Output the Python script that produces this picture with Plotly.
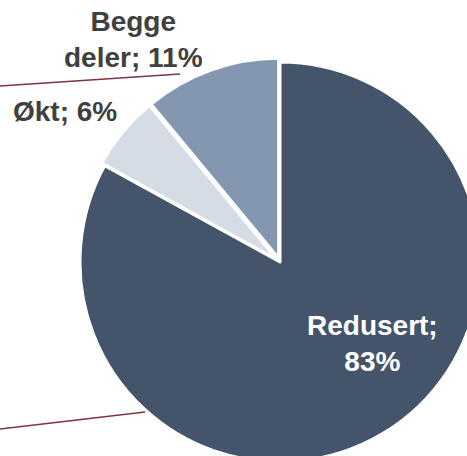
import plotly.graph_objects as go

# ---- data ----
labels = ["Redusert", "Økt", "Begge deler"]
values = [83, 6, 11]
colors = ["#44546A", "#D6DCE5", "#8497B0"]
pulls = [0, 0.02, 0.02]
# how each data label is broken into lines
label_text = [
    "Redusert;<br>{v}%",
    "Økt; {v}%",
    "Begge<br>deler; {v}%",
]
# label centres in pixels (x, y from top)
label_pos = [(372, 343), (65, 111), (133, 39)]
label_color = ["#FFFFFF", "#404040", "#404040"]

W, H = 484, 466
cx, cy, side = 280, 262, 408  # pie centre and domain side in px

fig = go.Figure()
fig.add_trace(go.Pie(
    labels=labels,
    values=values,
    sort=False,
    direction="clockwise",
    rotation=0,
    pull=pulls,
    marker=dict(colors=colors, line=dict(color="#FFFFFF", width=3)),
    textinfo="none",
    hoverinfo="label+percent",
    showlegend=False,
    domain=dict(
        x=[(cx - side / 2) / W, (cx + side / 2) / W],
        y=[1 - (cy + side / 2) / H, 1 - (cy - side / 2) / H],
    ),
))

for lab, val, fmt, (px, py), col in zip(labels, values, label_text, label_pos, label_color):
    fig.add_annotation(
        text="<b>" + fmt.format(v=val) + "</b>",
        x=px / W, y=1 - py / H, xref="paper", yref="paper",
        xanchor="center", yanchor="middle", showarrow=False,
        align="center",
        font=dict(family="Liberation Sans, Arial, sans-serif", size=28, color=col),
    )

# decorative leader lines
lines = [((0, 86), (180, 74)), ((0, 429), (145, 412))]
for (x0, y0), (x1, y1) in lines:
    fig.add_shape(type="line", xref="paper", yref="paper",
                  x0=x0 / W, y0=1 - y0 / H, x1=x1 / W, y1=1 - y1 / H,
                  line=dict(color="#7F3345", width=1.5))

fig.update_layout(
    width=W, height=H,
    margin=dict(l=0, r=0, t=0, b=0),
    paper_bgcolor="white", plot_bgcolor="white",
)

fig.write_html(
    "out.html",
    config={"displayModeBar": False},
    post_script="document.body.style.margin='0';document.body.style.overflow='hidden';document.documentElement.style.overflow='hidden';",
)
